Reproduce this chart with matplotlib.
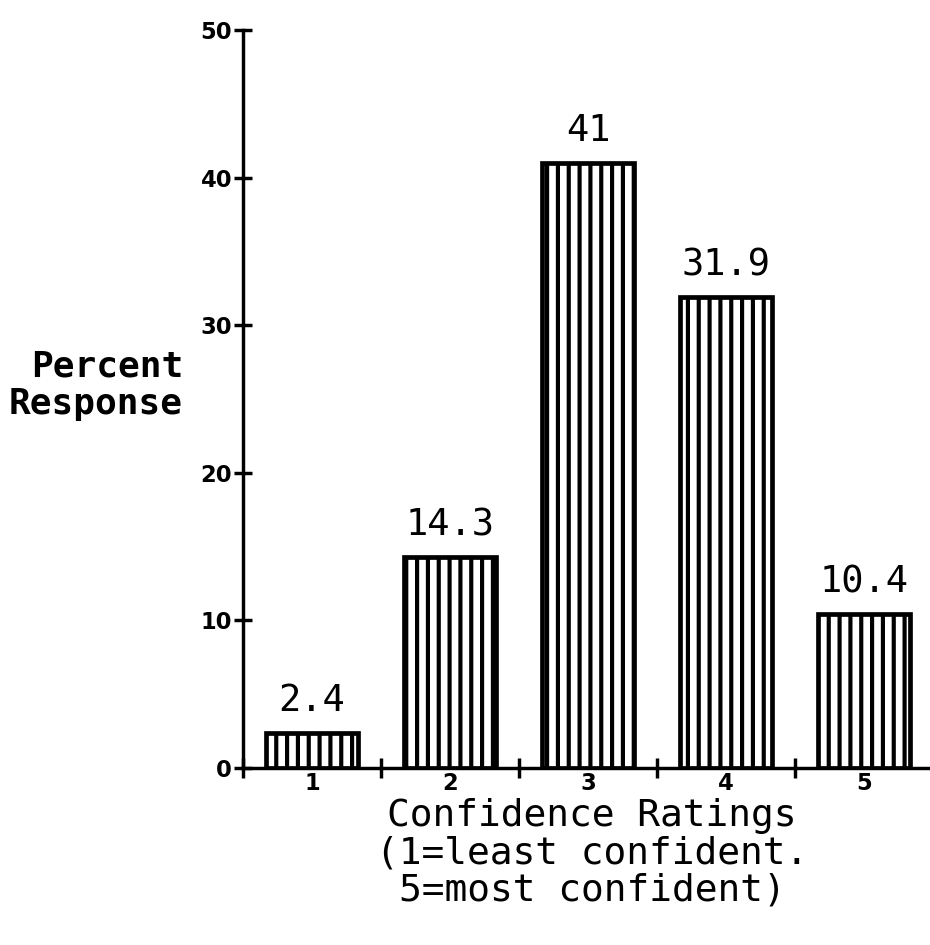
import matplotlib
matplotlib.use('Agg')
import matplotlib.pyplot as plt

ratings = [1, 2, 3, 4, 5]
tick_labels = ['1', '2', '3', '4', '5']
percent = [2.4, 14.3, 41, 31.9, 10.4]
value_labels = ['2.4', '14.3', '41', '31.9', '10.4']
y_ticks = [0, 10, 20, 30, 40, 50]
y_label = 'Percent\nResponse'
x_label = 'Confidence Ratings\n(1=least confident.\n5=most confident)'

DPI = 130
W, H = 930, 945
plt.rcParams['hatch.linewidth'] = 2.3
plt.rcParams['hatch.color'] = 'black'

fig = plt.figure(figsize=(W / DPI, H / DPI), dpi=DPI)
fig.patch.set_facecolor('white')
ax = fig.add_axes([243 / W, 177 / H, 690 / W, 738 / H])

ax.bar(ratings, percent, width=0.66, facecolor='white', edgecolor='black',
       linewidth=2.6, hatch='||', zorder=2)

for x, v, lbl in zip(ratings, percent, value_labels):
    ax.annotate(lbl, (x, v), xytext=(0, 12), textcoords='offset points',
                ha='center', va='baseline', family='DejaVu Sans Mono',
                fontsize=20.5, color='black')

ax.set_xlim(0.5, 5.5)
ax.set_ylim(0, 50)
for s in ['top', 'right']:
    ax.spines[s].set_visible(False)
for s in ['left', 'bottom']:
    ax.spines[s].set_linewidth(1.9)
    ax.spines[s].set_zorder(3)

tick_font = dict(family='DejaVu Sans', fontweight='bold', fontsize=12.5)

ax.set_xticks(ratings)
ax.set_xticklabels(tick_labels, **tick_font)
ax.set_xticks([r - 0.5 for r in ratings] + [ratings[-1] + 0.5], minor=True)
ax.tick_params(axis='x', which='major', length=0, pad=2)
ax.tick_params(axis='x', which='minor', direction='inout', length=11, width=1.9)

ax.set_yticks(y_ticks)
ax.set_yticklabels([str(t) for t in y_ticks], **tick_font)
ax.tick_params(axis='y', direction='inout', length=10, width=1.9, pad=1)

fig.text(183 / W, (H - 385) / H, y_label, ha='right', va='center',
         multialignment='right', family='DejaVu Sans Mono', fontweight='bold',
         fontsize=20, linespacing=1.12)

fig.text(592 / W, (H - 798) / H, x_label, ha='center', va='top',
         multialignment='center', family='DejaVu Sans Mono',
         fontsize=21, linespacing=1.05)

fig.savefig('out.png', dpi=DPI, facecolor='white')
